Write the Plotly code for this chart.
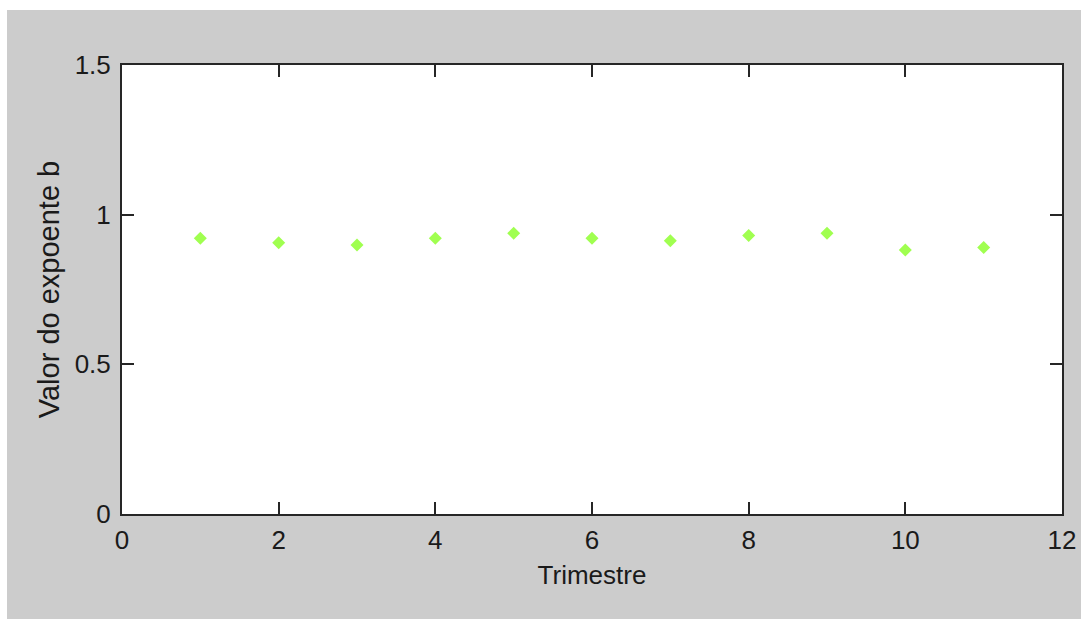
import plotly.graph_objects as go

trimestre = [1, 2, 3, 4, 5, 6, 7, 8, 9, 10, 11]
expoente_b = [0.921, 0.906, 0.899, 0.921, 0.938, 0.921, 0.913, 0.930, 0.938, 0.882, 0.890]
x_ticks = [0, 2, 4, 6, 8, 10, 12]
y_ticks = [0, 0.5, 1, 1.5]
y_tick_labels = ["0", "0.5", "1", "1.5"]

FONT = "Liberation Sans, Arial, sans-serif"
AX = "#262626"

fig = go.Figure(go.Scatter(
    x=trimestre, y=expoente_b, mode="markers",
    marker=dict(symbol="diamond", size=10, color="#a0ff50", line=dict(width=0)),
))

W, H = 1081, 619
L, R, T, B = 122, 19, 65, 105
pw, ph = W - L - R, H - T - B

def px_x(p):
    return (p - L) / pw

def px_y(p):
    return (H - B - p) / ph

fig.add_shape(type="rect", xref="paper", yref="paper",
              x0=px_x(0), x1=px_x(7), y0=px_y(H), y1=px_y(0),
              fillcolor="white", line=dict(width=0), layer="below")
fig.add_shape(type="rect", xref="paper", yref="paper",
              x0=px_x(0), x1=px_x(W), y0=px_y(10), y1=px_y(0),
              fillcolor="white", line=dict(width=0), layer="below")

fig.update_layout(
    width=W, height=H,
    margin=dict(l=L, r=R, t=T, b=B, autoexpand=False),
    paper_bgcolor="#cccccc", plot_bgcolor="white",
    showlegend=False,
    font=dict(family=FONT, size=26, color="#1a1a1a"),
)
fig.update_xaxes(
    range=[0, 12], tickvals=x_ticks, ticktext=[str(v) for v in x_ticks],
    ticks="inside", ticklen=12, tickwidth=2, tickcolor=AX,
    showline=True, linecolor=AX, linewidth=2, mirror="allticks",
    showgrid=False, zeroline=False, ticklabelstandoff=2, automargin=False,
    title=dict(text="Trimestre", font=dict(family=FONT, size=26), standoff=12),
)
fig.update_yaxes(
    range=[0, 1.5], tickvals=y_ticks, ticktext=y_tick_labels,
    ticks="inside", ticklen=12, tickwidth=2, tickcolor=AX,
    showline=True, linecolor=AX, linewidth=2, mirror="allticks",
    showgrid=False, zeroline=False, ticklabelstandoff=4, automargin=False,
    title=dict(text="Valor do expoente b", font=dict(family=FONT, size=29), standoff=6),
)

fig.write_html(
    "out.html",
    config={"displayModeBar": False},
    post_script=(
        "document.body.style.margin='0';document.body.style.padding='0';"
        "document.body.style.overflow='hidden';"
        "document.documentElement.style.background='#cccccc';"
    ),
)
